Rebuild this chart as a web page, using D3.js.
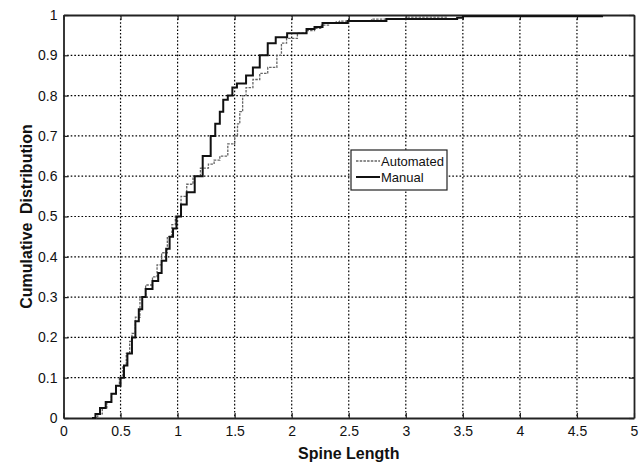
<!DOCTYPE html>
<html>
<head>
<meta charset="utf-8">
<script src="https://cdn.jsdelivr.net/npm/d3@7"></script>
<style>
  body { margin: 0; background: #fff; }
  svg text { font-family: "Liberation Sans Narrow", "Arial Narrow", "Liberation Sans", sans-serif; fill: #111; }
</style>
</head>
<body>
<div id="wrapper"></div>
<script>
// spine length (x) and cumulative fraction (y)
const manualLen = [0.25, 0.28, 0.32, 0.37, 0.42, 0.46, 0.50, 0.53, 0.56, 0.60, 0.63, 0.66, 0.69, 0.72, 0.78, 0.83, 0.86, 0.90, 0.93, 0.96, 0.99,
  1.03, 1.08, 1.15, 1.22, 1.29, 1.33, 1.37, 1.40, 1.44, 1.48, 1.52, 1.60, 1.66, 1.72, 1.79, 1.86, 1.96,
  2.10, 2.13, 2.20, 2.27, 2.49, 2.83, 3.45, 3.50, 4.72]
const manualCdf = [0, 0.01, 0.025, 0.04, 0.06, 0.08, 0.10, 0.13, 0.16, 0.20, 0.24, 0.27, 0.30, 0.32, 0.34, 0.36, 0.39, 0.42, 0.45, 0.47, 0.50,
  0.53, 0.56, 0.60, 0.65, 0.70, 0.73, 0.76, 0.79, 0.80, 0.82, 0.83, 0.85, 0.87, 0.90, 0.93, 0.945, 0.955,
  0.955, 0.965, 0.97, 0.98, 0.985, 0.99, 0.993, 0.997, 0.998]

const autoLen = [0.27, 0.30, 0.34, 0.38, 0.42, 0.46, 0.49, 0.52, 0.55, 0.58, 0.60, 0.63, 0.67, 0.72, 0.78, 0.82, 0.86, 0.91, 0.95, 0.98,
  1.03, 1.08, 1.135, 1.20, 1.27, 1.32, 1.37, 1.44, 1.50, 1.525, 1.545, 1.57, 1.60, 1.66, 1.72, 1.79, 1.87, 1.91, 1.955,
  2.05, 2.13, 2.20, 2.26, 2.33, 2.39, 2.42, 2.65, 2.70, 2.95, 3.00, 3.36]
const autoCdf = [0, 0.01, 0.025, 0.04, 0.06, 0.08, 0.10, 0.13, 0.16, 0.19, 0.21, 0.25, 0.30, 0.33, 0.35, 0.38, 0.41, 0.45, 0.48, 0.50,
  0.55, 0.58, 0.60, 0.62, 0.63, 0.64, 0.65, 0.68, 0.70, 0.73, 0.76, 0.80, 0.82, 0.84, 0.855, 0.87, 0.90, 0.93, 0.942,
  0.955, 0.961, 0.967, 0.975, 0.979, 0.983, 0.985, 0.985, 0.99, 0.99, 0.995, 0.995]

const xTicks = [0, 0.5, 1, 1.5, 2, 2.5, 3, 3.5, 4, 4.5, 5]
const yTicks = [0, 0.1, 0.2, 0.3, 0.4, 0.5, 0.6, 0.7, 0.8, 0.9, 1]

const seriesNames = ['Automated', 'Manual']

let dimensions = {
  width: 644,
  height: 463,
  margin: { top: 15, right: 10, bottom: 45, left: 63.5 }
}
dimensions.boundedWidth = dimensions.width - dimensions.margin.left - dimensions.margin.right
dimensions.boundedHeight = dimensions.height - dimensions.margin.top - dimensions.margin.bottom

const wrapper = d3.select('#wrapper')
  .append('svg')
  .attr('width', dimensions.width)
  .attr('height', dimensions.height)

const bounds = wrapper.append('g')
  .attr('transform', `translate(${dimensions.margin.left},${dimensions.margin.top})`)

const xScale = d3.scaleLinear().domain([0, 5]).range([0, dimensions.boundedWidth])
const yScale = d3.scaleLinear().domain([0, 1]).range([dimensions.boundedHeight, 0])

// grid
bounds.append('g').selectAll('line')
  .data(xTicks.slice(1, -1))
  .enter().append('line')
  .attr('x1', d => xScale(d)).attr('x2', d => xScale(d))
  .attr('y1', 0).attr('y2', dimensions.boundedHeight)
  .attr('stroke', '#000').attr('stroke-width', 1.2)
  .attr('stroke-dasharray', '1.6,2')

bounds.append('g').selectAll('line')
  .data(yTicks.slice(1, -1))
  .enter().append('line')
  .attr('x1', 0).attr('x2', dimensions.boundedWidth)
  .attr('y1', d => yScale(d)).attr('y2', d => yScale(d))
  .attr('stroke', '#000').attr('stroke-width', 1.2)
  .attr('stroke-dasharray', '1.6,2')

// axes
const fmt = d3.format('~g')
bounds.append('g')
  .attr('transform', `translate(0,${dimensions.boundedHeight})`)
  .call(d3.axisBottom(xScale).tickValues(xTicks).tickFormat(fmt).tickSizeInner(-5).tickSizeOuter(0).tickPadding(8))
bounds.append('g')
  .call(d3.axisTop(xScale).tickValues(xTicks).tickFormat('').tickSizeInner(-5).tickSizeOuter(0))
bounds.append('g')
  .call(d3.axisLeft(yScale).tickValues(yTicks).tickFormat(fmt).tickSizeInner(-5).tickSizeOuter(0).tickPadding(6))
bounds.append('g')
  .attr('transform', `translate(${dimensions.boundedWidth},0)`)
  .call(d3.axisRight(yScale).tickValues(yTicks).tickFormat('').tickSizeInner(-5).tickSizeOuter(0))

bounds.selectAll('.domain').attr('stroke', '#222').attr('stroke-width', 1.8)
bounds.selectAll('.tick line').attr('stroke', '#222').attr('stroke-width', 1.2)
bounds.selectAll('.tick text').attr('font-size', 14).attr('fill', '#111')
  .style('font-family', '"Liberation Sans Narrow", "Arial Narrow", "Liberation Sans", sans-serif')

// curves (stairs, like the empirical cdf)
const lineGenerator = d3.line()
  .x(d => xScale(d[0]))
  .y(d => yScale(d[1]))
  .curve(d3.curveStepAfter)

const autoData = autoLen.map((v, i) => [v, autoCdf[i]])
const manualData = manualLen.map((v, i) => [v, manualCdf[i]])

bounds.append('path')
  .datum(autoData)
  .attr('d', lineGenerator)
  .attr('fill', 'none')
  .attr('stroke', '#666')
  .attr('stroke-width', 1.3)
  .attr('stroke-dasharray', '2.5,1.2')

bounds.append('path')
  .datum(manualData)
  .attr('d', lineGenerator)
  .attr('fill', 'none')
  .attr('stroke', '#111')
  .attr('stroke-width', 2)

// axis titles
wrapper.append('text')
  .attr('x', dimensions.margin.left + dimensions.boundedWidth / 2)
  .attr('y', 459)
  .attr('text-anchor', 'middle')
  .attr('font-size', 16)
  .attr('font-weight', 'bold')
  .text('Spine Length')

wrapper.append('text')
  .attr('transform', `translate(32,${dimensions.margin.top + dimensions.boundedHeight / 2}) rotate(-90)`)
  .attr('text-anchor', 'middle')
  .attr('font-size', 16)
  .attr('font-weight', 'bold')
  .attr('word-spacing', 4)
  .text('Cumulative Distribution')

// legend
const legend = wrapper.append('g')
  .attr('transform', 'translate(351,150)')

legend.append('rect')
  .attr('width', 96).attr('height', 40)
  .attr('fill', '#fff')
  .attr('stroke', '#222').attr('stroke-width', 1.2)

const legendItems = legend.selectAll('.legend-item')
  .data(seriesNames)
  .enter().append('g')
  .attr('class', 'legend-item')
  .attr('transform', (d, i) => `translate(0,${11 + i * 16})`)

legendItems.append('line')
  .attr('x1', 5).attr('x2', 29)
  .attr('stroke', d => d == 'Manual' ? '#111' : '#666')
  .attr('stroke-width', d => d == 'Manual' ? 2 : 1.3)
  .attr('stroke-dasharray', d => d == 'Manual' ? null : '2.5,1.2')

legendItems.append('text')
  .attr('x', 30)
  .attr('dy', '0.35em')
  .attr('font-size', 13)
  .text(d => d)
</script>
</body>
</html>
